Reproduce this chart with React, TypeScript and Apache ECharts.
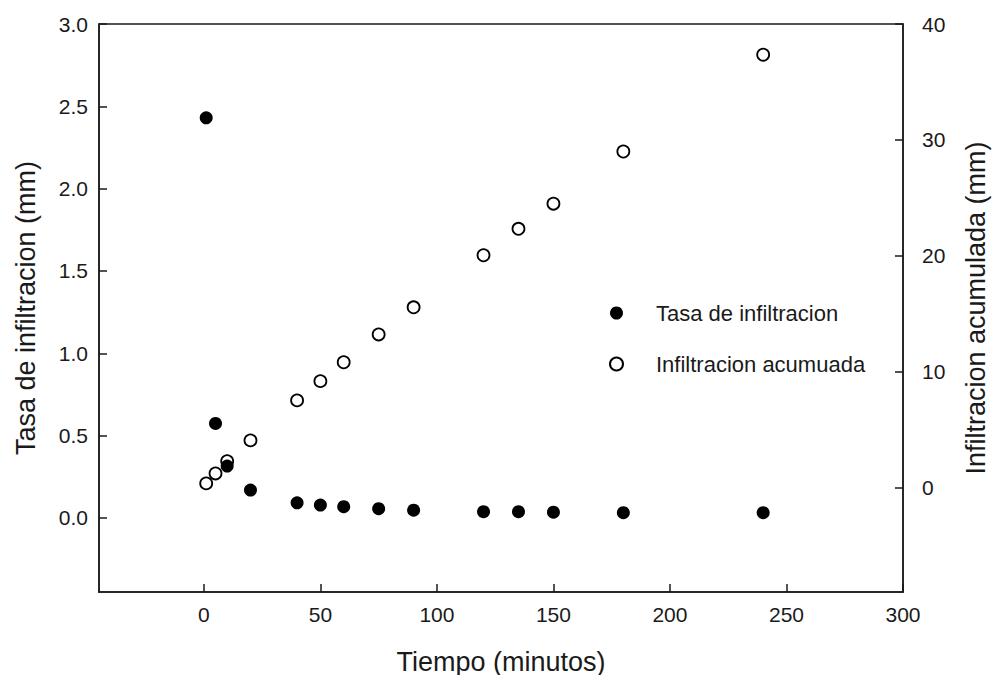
import React, { useEffect, useRef } from "react";
import * as echarts from "echarts";

const tiempo = [1, 5, 10, 20, 40, 50, 60, 75, 90, 120, 135, 150, 180, 240];
const tasa = [2.43, 0.574, 0.315, 0.169, 0.092, 0.078, 0.068, 0.056, 0.047, 0.038, 0.038, 0.035, 0.032, 0.032];
const acumulada = [0.37, 1.23, 2.29, 4.08, 7.53, 9.19, 10.82, 13.22, 15.56, 20.05, 22.33, 24.5, 29.0, 37.35];
const xTicks = [0, 50, 100, 150, 200, 250, 300];
const yLeftTicks = [0, 0.5, 1.0, 1.5, 2.0, 2.5, 3.0];
const yRightTicks = [0, 10, 20, 30, 40];

const FONT = '"Liberation Sans", Arial, sans-serif';
const INK = "#1a1a1a";

export default function App() {
  const ref = useRef<HTMLDivElement>(null);
  useEffect(() => {
    if (!ref.current) return;
    const chart = echarts.init(ref.current, undefined, { renderer: "svg" });
    const axisCommon = {
      splitLine: { show: false },
      axisLine: { show: true, onZero: false, lineStyle: { color: INK, width: 1.5 } },
      axisTick: { show: true, inside: true, length: 8, lineStyle: { color: INK, width: 1.5 } },
      nameTextStyle: { fontFamily: FONT, fontSize: 27, color: INK },
    };
    chart.setOption({
      animation: false,
      backgroundColor: "#fff",
      textStyle: { fontFamily: FONT },
      grid: {
        left: 99,
        top: 24,
        right: 89,
        bottom: 83,
        containLabel: false,
        outerBoundsMode: "none",
        show: true,
        borderColor: INK,
        borderWidth: 1.5,
        backgroundColor: "transparent",
      },
      legend: {
        orient: "vertical",
        left: 604,
        top: 297,
        itemWidth: 13,
        itemHeight: 13,
        itemGap: 29,
        textStyle: { fontFamily: FONT, fontSize: 22, color: INK, padding: [0, 0, 0, 28] },
        data: [
          { name: "Tasa de infiltracion", icon: "circle" },
          { name: "Infiltracion acumuada", icon: "circle" },
        ],
      },
      xAxis: {
        type: "value",
        min: -45,
        max: 300,
        name: "Tiempo (minutos)",
        nameLocation: "middle",
        nameGap: 56,
        ...axisCommon,
        axisTick: { ...axisCommon.axisTick, customValues: xTicks },
        axisLabel: {
          customValues: xTicks,
          fontFamily: FONT,
          fontSize: 21,
          color: INK,
          margin: 12,
        },
      },
      yAxis: [
        {
          type: "value",
          position: "left",
          min: -0.45,
          max: 3.0,
          name: "Tasa de infiltracion (mm)",
          nameLocation: "middle",
          nameGap: 60,
          ...axisCommon,
          axisTick: { ...axisCommon.axisTick, customValues: yLeftTicks },
          axisLabel: {
            customValues: yLeftTicks,
            formatter: (v: number) => v.toFixed(1),
            fontFamily: FONT,
            fontSize: 21,
            color: INK,
            margin: 11,
          },
        },
        {
          type: "value",
          position: "right",
          min: -9,
          max: 40,
          name: "Infiltracion acumulada (mm)",
          nameLocation: "middle",
          nameGap: 59,
          ...axisCommon,
          axisTick: { ...axisCommon.axisTick, customValues: yRightTicks },
          axisLabel: {
            customValues: yRightTicks,
            fontFamily: FONT,
            fontSize: 21,
            color: INK,
            margin: 19,
          },
        },
      ],
      series: [
        {
          name: "Tasa de infiltracion",
          type: "scatter",
          xAxisIndex: 0,
          yAxisIndex: 0,
          symbol: "circle",
          symbolSize: 13,
          itemStyle: { color: "#000", borderColor: "#000", borderWidth: 0, opacity: 1 },
          data: tiempo.map((t, i) => [t, tasa[i]]),
          z: 3,
        },
        {
          name: "Infiltracion acumuada",
          type: "scatter",
          xAxisIndex: 0,
          yAxisIndex: 1,
          symbol: "circle",
          symbolSize: 12,
          itemStyle: { color: "#fff", borderColor: "#000", borderWidth: 1.8, opacity: 1 },
          data: tiempo.map((t, i) => [t, acumulada[i]]),
          z: 2,
        },
      ],
    });
    return () => chart.dispose();
  }, []);
  return <div ref={ref} style={{ width: 992, height: 675, position: "absolute", left: 0, top: 0 }} />;
}
